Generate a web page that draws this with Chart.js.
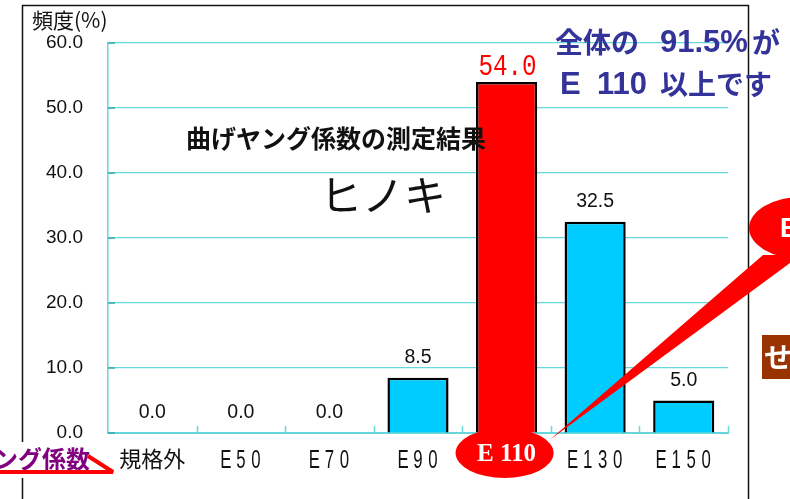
<!DOCTYPE html>
<html>
<head>
<meta charset="utf-8">
<script src="https://cdn.jsdelivr.net/npm/chart.js@4"></script>
<style>
  html, body { margin: 0; padding: 0; background: #fff; }
  #wrap { width: 790px; height: 499px; }
</style>
</head>
<body>
<div id="wrap"><canvas id="myChart" width="790" height="499"></canvas></div>
<script>
let categories = ['規格外', 'E 5 0', 'E 7 0', 'E 9 0', 'E 1 1 0', 'E 1 3 0', 'E 1 5 0'];
let frequency = [0.0, 0.0, 0.0, 8.5, 54.0, 32.5, 5.0];
let yMin = 0, yMax = 60, yStep = 10;
let highlight = 4;   // E110 bar

let cyan = '#66d8dc';
let jp = "'Noto Sans CJK JP', sans-serif";
let latin = "'Liberation Sans', Arial, sans-serif";

let barColors = frequency.map((v, i) => i === highlight ? '#ff0000' : '#00ccff');

let decorations = {
  id: 'decorations',
  beforeDraw(chart) {
    let c = chart.ctx;
    c.save();
    c.fillStyle = '#fff';
    c.fillRect(0, 0, chart.width, chart.height);
    // slide frame
    c.strokeStyle = '#111';
    c.lineWidth = 1.5;
    c.beginPath();
    c.moveTo(22.5, 499); c.lineTo(22.5, 5.5); c.lineTo(748.5, 5.5); c.lineTo(748.5, 499);
    c.stroke();
    c.restore();
  },
  afterDatasetsDraw(chart) {
    let c = chart.ctx;
    let area = chart.chartArea;
    let x = chart.scales.x;
    let meta = chart.getDatasetMeta(0);
    c.save();

    // inward tick marks
    c.strokeStyle = cyan;
    c.lineWidth = 1.5;
    let n = categories.length;
    for (let i = 1; i <= n; i++) {
      let px = Math.round(area.left + i * (area.right - area.left) / n) + 0.5;
      c.beginPath(); c.moveTo(px, area.bottom); c.lineTo(px, area.bottom - 7); c.stroke();
    }
    c.strokeStyle = '#3aa9b0';
    chart.scales.y.ticks.forEach(t => {
      let py = chart.scales.y.getPixelForValue(t.value);
      c.beginPath(); c.moveTo(area.left, py); c.lineTo(area.left + 7, py); c.stroke();
    });

    // value labels
    meta.data.forEach((bar, i) => {
      let txt = frequency[i].toFixed(1);
      if (i === highlight) {
        c.save();
        c.fillStyle = '#ff0000';
        c.font = "25px 'Liberation Mono', monospace";
        c.textAlign = 'center';
        c.textBaseline = 'alphabetic';
        c.translate(bar.x + 1, bar.y - 7);
        c.scale(0.97, 1.2);
        c.fillText(txt, 0, 0);
        c.restore();
      } else {
        c.fillStyle = '#111';
        c.font = '19.5px ' + latin;
        c.textAlign = 'center';
        c.textBaseline = 'alphabetic';
        c.fillText(txt, bar.x, bar.y - 15);
      }
    });

    // category labels
    categories.forEach((lab, i) => {
      let cx = x.getPixelForValue(i);
      c.fillStyle = '#111';
      c.textBaseline = 'middle';
      if (lab[0] === 'E') {
        let chars = lab.split(' ');
        let pitch = 15;
        let start = cx - (chars.length - 1) * pitch / 2;
        chars.forEach((ch, k) => {
          c.save();
          c.translate(start + k * pitch, 461);
          c.scale(0.7, 1.08);
          c.font = '24px ' + latin;
          c.textAlign = 'center';
          c.fillText(ch, 0, 0);
          c.restore();
        });
      } else {
        c.font = '22px ' + jp;
        c.textAlign = 'center';
        c.fillText(lab, cx, 459);
      }
    });
    c.restore();
  },
  afterDraw(chart) {
    let c = chart.ctx;
    let x = chart.scales.x;
    c.save();

    // axis title
    c.fillStyle = '#111';
    c.font = '21px ' + jp;
    c.textAlign = 'left';
    c.textBaseline = 'middle';
    c.fillText('頻度(%)', 32, 20);

    // titles
    c.font = 'bold 25px ' + jp;
    c.textAlign = 'center';
    c.fillText('曲げヤング係数の測定結果', 336, 138);
    c.font = '42px ' + jp;
    c.fillText('ヒノキ', 383, 195);

    // blue remark
    c.fillStyle = '#333399';
    c.textAlign = 'left';
    c.font = 'bold 28px ' + jp;
    c.fillText('全体の', 555, 42);
    c.font = 'bold 31px ' + latin;
    c.fillText('91.5%', 660, 43);
    c.font = 'bold 28px ' + jp;
    c.fillText('が', 752, 42);
    c.font = 'bold 31px ' + latin;
    c.fillText('E', 560, 85);
    c.fillText('110', 597, 85);
    c.font = 'bold 28px ' + jp;
    c.fillText('以上です', 660, 84);

    // callout wedge + balloons
    let ex = x.getPixelForValue(highlight) - 2;
    let ey = 453;
    c.fillStyle = '#ff0000';
    c.beginPath();
    c.moveTo(ex + 45, ey - 13);
    c.lineTo(763, 255);
    c.lineTo(801, 255);
    c.closePath();
    c.fill();
    c.beginPath();
    c.ellipse(802, 228, 53, 31, 0, 0, Math.PI * 2);
    c.fill();
    c.beginPath();
    c.ellipse(ex, ey, 49, 25, 0, 0, Math.PI * 2);
    c.fill();
    c.fillStyle = '#fff';
    c.font = "bold 25px 'Liberation Serif', serif";
    c.textAlign = 'center';
    c.textBaseline = 'middle';
    c.fillText('E 110', ex + 2, ey + 2);
    c.font = 'bold 27px ' + latin;
    c.textAlign = 'left';
    c.fillText('E', 780, 230);

    // brown box
    c.fillStyle = '#993300';
    c.fillRect(762, 335, 30, 44);
    c.fillStyle = '#fff';
    c.font = 'bold 28px ' + jp;
    c.fillText('せ', 764, 357);

    // bottom-left cut label
    c.fillStyle = '#fff';
    c.fillRect(0, 442, 98, 36);
    c.fillStyle = '#800080';
    c.font = 'bold 24px ' + jp;
    c.textAlign = 'left';
    c.fillText('ング係数', -6, 459);
    c.strokeStyle = '#ff0000';
    c.lineWidth = 4;
    c.lineJoin = 'bevel';
    c.beginPath();
    c.moveTo(0, 472); c.lineTo(113, 472); c.lineTo(88, 456);
    c.stroke();

    c.restore();
  }
};

let ctx = document.getElementById('myChart').getContext('2d');
let myChart = new Chart(ctx, {
  type: 'bar',
  data: {
    labels: categories,
    datasets: [{
      data: frequency,
      backgroundColor: barColors,
      borderColor: '#000',
      borderWidth: 2.5,
      categoryPercentage: 1,
      barPercentage: 0.69
    }]
  },
  options: {
    responsive: false,
    animation: false,
    layout: { padding: { top: 43, right: 62, left: 0, bottom: 0 } },
    plugins: {
      legend: { display: false },
      tooltip: { enabled: false }
    },
    scales: {
      x: {
        grid: { display: false, drawTicks: false },
        border: { display: true, color: cyan, width: 2 },
        ticks: { display: false },
        afterFit: (scale) => { scale.height = 66; }
      },
      y: {
        min: yMin,
        max: yMax,
        grid: { color: cyan, lineWidth: 1.2, drawTicks: false },
        border: { display: true, color: cyan, width: 1.5 },
        ticks: {
          stepSize: yStep,
          padding: 25,
          color: '#111',
          font: { family: 'Liberation Sans', size: 19 },
          callback: (v) => v.toFixed(1)
        },
        afterFit: (scale) => { scale.width = 108; }
      }
    }
  },
  plugins: [decorations]
});
</script>
</body>
</html>
